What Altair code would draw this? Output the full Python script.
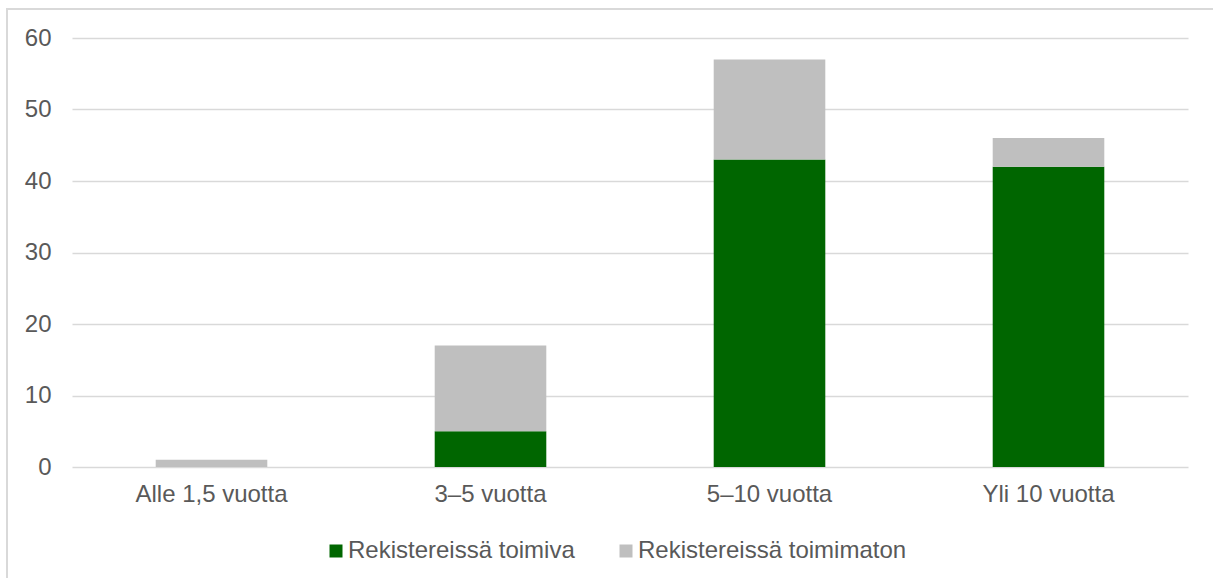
import altair as alt
import pandas as pd

categories = ["Alle 1,5 vuotta", "3–5 vuotta", "5–10 vuotta", "Yli 10 vuotta"]
series = ["Rekistereissä toimiva", "Rekistereissä toimimaton"]
toimiva = [0, 5, 43, 42]
toimimaton = [1, 12, 14, 4]
colors = ["#006600", "#BFBFBF"]
y_ticks = [0, 10, 20, 30, 40, 50, 60]

rows = []
for i, c in enumerate(categories):
    rows.append({"cat": c, "series": series[0], "value": toimiva[i], "order": 0})
    rows.append({"cat": c, "series": series[1], "value": toimimaton[i], "order": 1})
df = pd.DataFrame(rows)

FONT = "Liberation Sans"
TXT = "#595959"
GRID = "#D9D9D9"

bars = alt.Chart(df).mark_bar().encode(
    x=alt.X(
        "cat:N",
        sort=categories,
        scale=alt.Scale(paddingInner=0.6, paddingOuter=0.3),
        axis=alt.Axis(
            title=None, labelAngle=0, domain=False, ticks=False,
            labelFontSize=24, labelColor=TXT, labelFont=FONT, labelPadding=15,
            labelLimit=0,
        ),
    ),
    y=alt.Y(
        "value:Q",
        stack="zero",
        scale=alt.Scale(domain=[0, 60], nice=False),
        axis=alt.Axis(
            title=None, values=y_ticks, domain=False, ticks=False,
            grid=True, gridColor=GRID, gridWidth=1.5,
            labelFontSize=24, labelColor=TXT, labelFont=FONT, labelPadding=21,
        ),
    ),
    color=alt.Color(
        "series:N",
        scale=alt.Scale(domain=series, range=colors),
        legend=alt.Legend(
            title=None, orient="none", legendX=252, legendY=501,
            direction="horizontal", symbolType="square", symbolSize=169,
            symbolStrokeWidth=0, labelFontSize=24, labelColor=TXT,
            labelFont=FONT, labelOffset=0, columnPadding=39, labelLimit=0,
        ),
    ),
    order=alt.Order("order:Q"),
)

one = alt.Data(values=[{"a": 1}])
border_left = alt.Chart(one).mark_rule(color=GRID, strokeWidth=2).encode(
    x=alt.value(-65), y=alt.value(-29), y2=alt.value(560)
)
border_top = alt.Chart(one).mark_rule(color=GRID, strokeWidth=2).encode(
    x=alt.value(-66), x2=alt.value(1160), y=alt.value(-29)
)

chart = alt.layer(border_left, border_top, bars).properties(
    width=1116,
    height=429,
    autosize=alt.AutoSizeParams(type="none"),
    padding={"left": 72, "top": 38, "right": 25, "bottom": 111},
    background="white",
).configure_view(stroke=None)

chart.save("out.html", embed_options={"renderer": "svg", "actions": False})
